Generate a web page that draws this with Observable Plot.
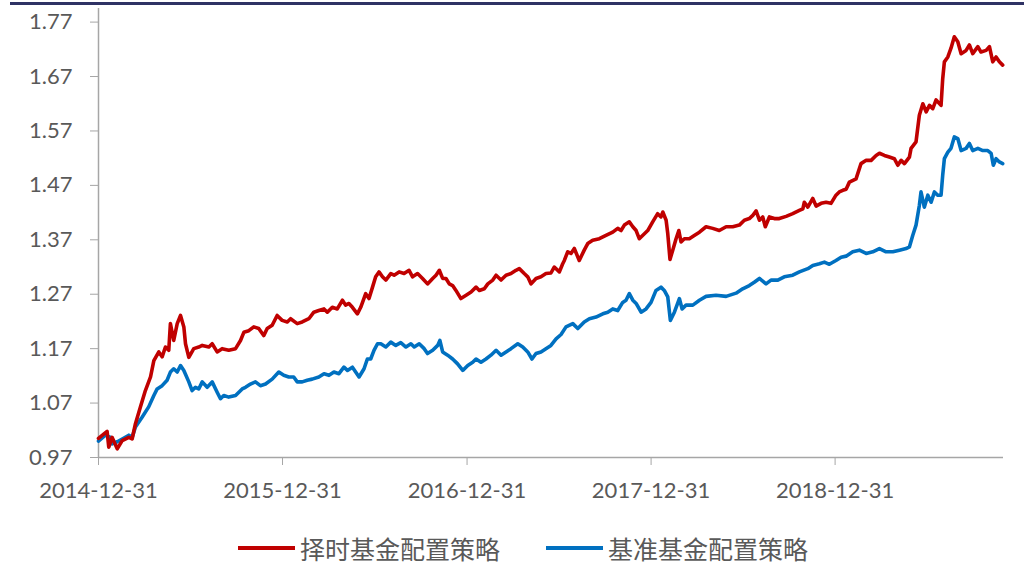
<!DOCTYPE html>
<html><head><meta charset="utf-8">
<script src="https://cdn.jsdelivr.net/npm/d3@7"></script>
<script src="https://cdn.jsdelivr.net/npm/@observablehq/plot@0.6"></script>
<style>
body{margin:0;background:#fff;}
#wrap{position:relative;width:1024px;height:565px;overflow:hidden;background:#fff;}
#topline{position:absolute;left:10px;right:0;top:2px;height:3px;background:#2f3264;}
#chart{position:absolute;left:0;top:0;}
#legend{position:absolute;top:532px;left:0;width:1024px;height:32px;font-family:"Noto Sans CJK SC",sans-serif;font-size:25px;color:#595959;}
.item{position:absolute;top:0;display:flex;align-items:center;height:32px;white-space:nowrap;}
.sw{display:inline-block;width:57px;height:4px;margin-right:5px;}
</style></head>
<body>
<div id="wrap">
  <div id="topline"></div>
  <div id="chart"></div>
  <div id="legend"></div>
</div>
<script>
// Series names
const seriesNames = ["择时基金配置策略", "基准基金配置策略"];
const seriesColors = ["#C00000", "#0070C0"];

// Y ticks and X tick labels
const yTicks = [0.97, 1.07, 1.17, 1.27, 1.37, 1.47, 1.57, 1.67, 1.77];
const xTickLabels = ["2014-12-31", "2015-12-31", "2016-12-31", "2017-12-31", "2018-12-31"];
const xDomain = ["2014-12-31", "2019-11-30"];

// 择时基金配置策略 (dates as decimal years)
const timingDates = [
2014.997,2015.044,2015.053,2015.071,2015.099,2015.126,2015.162,2015.180,2015.198,2015.225,
2015.252,2015.280,2015.298,2015.325,2015.343,2015.361,2015.379,2015.388,2015.406,2015.425,
2015.443,2015.461,2015.470,2015.488,2015.515,2015.542,2015.561,2015.597,2015.615,2015.642,
2015.669,2015.705,2015.742,2015.769,2015.787,2015.814,2015.841,2015.868,2015.895,2015.914,
2015.941,2015.968,2015.995,2016.023,2016.041,2016.077,2016.104,2016.140,2016.167,2016.194,
2016.222,2016.240,2016.267,2016.294,2016.322,2016.339,2016.357,2016.376,2016.403,2016.421,
2016.448,2016.466,2016.485,2016.502,2016.520,2016.539,2016.557,2016.584,2016.602,2016.629,
2016.656,2016.683,2016.702,2016.729,2016.756,2016.783,2016.811,2016.829,2016.847,2016.865,
2016.883,2016.901,2016.919,2016.937,2016.964,2016.992,2017.019,2017.046,2017.064,2017.091,
2017.110,2017.137,2017.155,2017.182,2017.209,2017.236,2017.263,2017.281,2017.308,2017.327,
2017.345,2017.372,2017.399,2017.426,2017.453,2017.471,2017.499,2017.517,2017.526,2017.544,
2017.562,2017.580,2017.607,2017.634,2017.653,2017.680,2017.716,2017.752,2017.789,2017.816,
2017.834,2017.852,2017.879,2017.898,2017.916,2017.933,2017.961,2017.979,2018.006,2018.033,
2018.051,2018.061,2018.079,2018.088,2018.100,2018.115,2018.133,2018.148,2018.160,2018.178,
2018.205,2018.232,2018.260,2018.296,2018.332,2018.368,2018.405,2018.441,2018.477,2018.504,
2018.531,2018.550,2018.568,2018.586,2018.604,2018.618,2018.640,2018.667,2018.694,2018.731,
2018.767,2018.803,2018.822,2018.830,2018.849,2018.876,2018.894,2018.921,2018.948,2018.975,
2019.002,2019.020,2019.039,2019.057,2019.075,2019.111,2019.138,2019.166,2019.193,2019.220,
2019.238,2019.265,2019.292,2019.319,2019.338,2019.356,2019.374,2019.401,2019.410,2019.437,
2019.455,2019.474,2019.492,2019.510,2019.528,2019.546,2019.573,2019.582,2019.591,2019.610,
2019.627,2019.645,2019.664,2019.682,2019.709,2019.727,2019.745,2019.773,2019.790,2019.818,
2019.836,2019.854,2019.872,2019.890,2019.908
];
const timingValues = [
1.005,1.018,0.989,1.007,0.986,1.001,1.007,1.004,1.032,1.063,
1.093,1.118,1.148,1.164,1.155,1.173,1.167,1.216,1.185,1.216,
1.231,1.210,1.179,1.154,1.170,1.173,1.176,1.173,1.179,1.164,
1.170,1.167,1.170,1.185,1.200,1.203,1.210,1.207,1.194,1.207,
1.213,1.231,1.222,1.219,1.225,1.216,1.219,1.225,1.237,1.240,
1.243,1.237,1.246,1.243,1.259,1.250,1.253,1.246,1.234,1.246,
1.271,1.262,1.283,1.302,1.311,1.302,1.296,1.308,1.305,1.311,
1.308,1.314,1.302,1.308,1.299,1.289,1.299,1.305,1.314,1.299,
1.299,1.289,1.286,1.277,1.262,1.268,1.274,1.283,1.277,1.280,
1.289,1.296,1.305,1.296,1.305,1.308,1.314,1.317,1.308,1.302,
1.289,1.299,1.302,1.308,1.309,1.320,1.311,1.326,1.332,1.348,
1.345,1.354,1.332,1.351,1.363,1.369,1.372,1.378,1.384,1.391,
1.387,1.397,1.403,1.394,1.387,1.372,1.381,1.387,1.403,1.418,
1.412,1.421,1.406,1.381,1.334,1.351,1.372,1.387,1.366,1.372,
1.372,1.378,1.384,1.394,1.391,1.387,1.394,1.394,1.397,1.406,
1.409,1.415,1.423,1.406,1.412,1.394,1.412,1.409,1.409,1.413,
1.418,1.424,1.427,1.439,1.430,1.446,1.432,1.437,1.439,1.437,
1.452,1.458,1.461,1.463,1.476,1.482,1.510,1.516,1.516,1.525,
1.529,1.525,1.522,1.519,1.507,1.516,1.510,1.522,1.538,1.550,
1.599,1.620,1.605,1.617,1.611,1.627,1.617,1.666,1.697,1.706,
1.722,1.743,1.734,1.712,1.718,1.728,1.712,1.725,1.715,1.718,
1.725,1.697,1.706,1.697,1.691
];

// 基准基金配置策略
const benchDates = [
2014.997,2015.035,2015.062,2015.071,2015.099,2015.126,2015.162,2015.180,2015.198,2015.234,
2015.270,2015.298,2015.316,2015.343,2015.370,2015.388,2015.406,2015.425,2015.443,2015.461,
2015.488,2015.506,2015.524,2015.542,2015.561,2015.588,2015.615,2015.642,2015.660,2015.678,
2015.705,2015.742,2015.778,2015.796,2015.823,2015.850,2015.877,2015.905,2015.941,2015.977,
2016.004,2016.031,2016.058,2016.077,2016.104,2016.131,2016.158,2016.194,2016.222,2016.249,
2016.276,2016.303,2016.330,2016.349,2016.376,2016.412,2016.439,2016.457,2016.475,2016.493,
2016.512,2016.530,2016.557,2016.584,2016.611,2016.638,2016.666,2016.693,2016.711,2016.738,
2016.765,2016.783,2016.811,2016.838,2016.850,2016.865,2016.892,2016.919,2016.946,2016.974,
2017.001,2017.028,2017.046,2017.073,2017.100,2017.127,2017.155,2017.182,2017.209,2017.236,
2017.273,2017.300,2017.327,2017.350,2017.372,2017.399,2017.426,2017.453,2017.481,2017.508,
2017.535,2017.572,2017.599,2017.634,2017.662,2017.698,2017.735,2017.762,2017.789,2017.816,
2017.843,2017.861,2017.879,2017.898,2017.916,2017.943,2017.970,2017.997,2018.024,2018.051,
2018.069,2018.088,2018.102,2018.124,2018.151,2018.166,2018.187,2018.224,2018.260,2018.296,
2018.350,2018.405,2018.459,2018.495,2018.531,2018.558,2018.586,2018.622,2018.649,2018.686,
2018.721,2018.767,2018.803,2018.849,2018.876,2018.912,2018.939,2018.966,2019.002,2019.030,
2019.057,2019.093,2019.129,2019.166,2019.202,2019.238,2019.274,2019.311,2019.347,2019.383,
2019.401,2019.419,2019.437,2019.455,2019.464,2019.482,2019.501,2019.519,2019.537,2019.555,
2019.573,2019.582,2019.591,2019.610,2019.627,2019.645,2019.664,2019.682,2019.709,2019.727,
2019.745,2019.773,2019.800,2019.827,2019.845,2019.857,2019.872,2019.890,2019.908
];
const benchValues = [
1.000,1.011,1.007,0.995,0.999,1.004,1.011,1.007,1.026,1.044,
1.063,1.084,1.096,1.102,1.112,1.127,1.133,1.127,1.139,1.130,
1.109,1.093,1.099,1.096,1.109,1.099,1.109,1.090,1.078,1.084,
1.081,1.084,1.096,1.099,1.105,1.109,1.102,1.105,1.114,1.127,
1.121,1.118,1.118,1.109,1.109,1.112,1.114,1.118,1.124,1.121,
1.127,1.124,1.136,1.130,1.136,1.118,1.133,1.151,1.151,1.167,
1.179,1.179,1.173,1.182,1.176,1.181,1.173,1.179,1.173,1.179,
1.170,1.161,1.167,1.176,1.185,1.164,1.158,1.151,1.142,1.130,
1.139,1.145,1.151,1.145,1.151,1.158,1.167,1.158,1.164,1.170,
1.179,1.173,1.164,1.151,1.161,1.164,1.170,1.176,1.188,1.196,
1.210,1.216,1.207,1.219,1.225,1.228,1.234,1.237,1.243,1.240,
1.255,1.259,1.271,1.259,1.253,1.237,1.243,1.255,1.277,1.283,
1.277,1.265,1.222,1.237,1.262,1.243,1.250,1.250,1.259,1.266,
1.268,1.266,1.272,1.280,1.286,1.292,1.299,1.289,1.296,1.296,
1.302,1.305,1.311,1.317,1.323,1.326,1.329,1.325,1.332,1.338,
1.340,1.348,1.351,1.345,1.348,1.354,1.348,1.348,1.351,1.354,
1.357,1.378,1.397,1.433,1.458,1.430,1.452,1.439,1.458,1.452,
1.452,1.489,1.519,1.531,1.538,1.559,1.556,1.534,1.538,1.547,
1.534,1.538,1.534,1.534,1.529,1.507,1.519,1.513,1.510
];

// --- helpers ---
const parseDay = d3.utcParse("%Y-%m-%d");
function fromDecimalYear(t) {
  const yr = Math.floor(t);
  const a = Date.UTC(yr, 0, 1), b = Date.UTC(yr + 1, 0, 1);
  return new Date(a + (t - yr) * (b - a));
}
const timingData = d3.zip(timingDates, timingValues).map(([t, v]) => ({date: fromDecimalYear(t), value: v}));
const benchData = d3.zip(benchDates, benchValues).map(([t, v]) => ({date: fromDecimalYear(t), value: v}));
const xTicks = xTickLabels.map(parseDay);
const xDom = xDomain.map(parseDay);

const axisColor = "#A6A6A6";
const textColor = "#595959";

const chart = Plot.plot({
  width: 1024,
  height: 520,
  marginLeft: 98,
  marginRight: 21,
  marginTop: 8,
  marginBottom: 63,
  style: {fontFamily: "Lato, 'Liberation Sans', sans-serif", fontSize: "22px", color: textColor, background: "transparent", overflow: "visible"},
  x: {type: "utc", domain: xDom},
  y: {domain: [0.97, 1.795]},
  marks: [
    Plot.axisY({ticks: yTicks, tickFormat: d => d.toFixed(2), tickSize: 8, tickPadding: 18, stroke: axisColor, fill: textColor, label: null, fontSize: 22}),
    Plot.axisX({ticks: xTicks, tickFormat: d3.utcFormat("%Y-%m-%d"), tickSize: 8, tickPadding: 17, stroke: axisColor, fill: textColor, label: null, fontSize: 22}),
    Plot.ruleX([xDom[0]], {stroke: axisColor, strokeWidth: 1.5}),
    Plot.ruleY([0.97], {stroke: axisColor, strokeWidth: 1.5}),
    Plot.line(benchData, {x: "date", y: "value", stroke: seriesColors[1], strokeWidth: 3.6, strokeLinejoin: "round"}),
    Plot.line(timingData, {x: "date", y: "value", stroke: seriesColors[0], strokeWidth: 3.6, strokeLinejoin: "round"})
  ]
});
document.getElementById("chart").appendChild(chart);

// legend
const legend = document.getElementById("legend");
const legendLefts = [238, 546];
seriesNames.forEach((name, i) => {
  const item = document.createElement("div");
  item.className = "item";
  item.style.left = legendLefts[i] + "px";
  const sw = document.createElement("span");
  sw.className = "sw";
  sw.style.background = seriesColors[i];
  const tx = document.createElement("span");
  tx.textContent = name;
  item.appendChild(sw);
  item.appendChild(tx);
  legend.appendChild(item);
});
</script>
</body></html>
